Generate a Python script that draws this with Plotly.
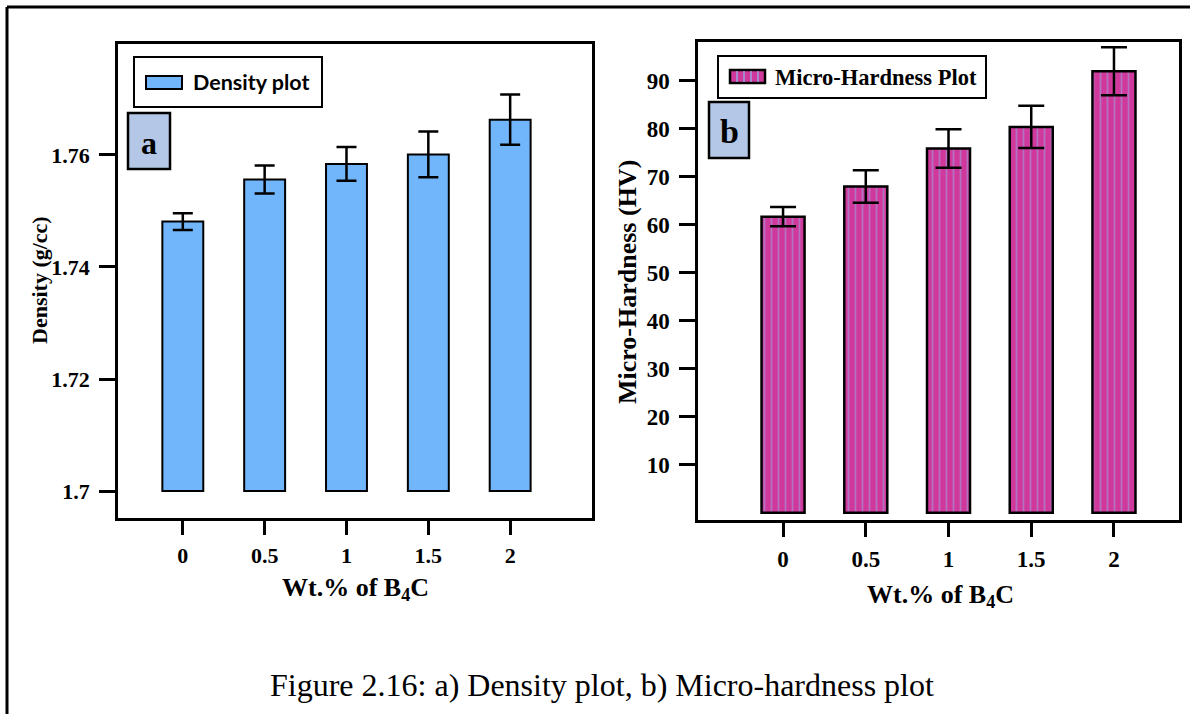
import plotly.graph_objects as go

# ---------------- data ----------------
wt_b4c = [0, 0.5, 1, 1.5, 2]
wt_labels = ["0", "0.5", "1", "1.5", "2"]

density = [1.7481, 1.7556, 1.7584, 1.7601, 1.7663]
density_err = [0.0015, 0.0025, 0.0030, 0.0041, 0.0045]
density_base = 1.70
density_ticks = [1.70, 1.72, 1.74, 1.76]
density_ticktext = ["1.7", "1.72", "1.74", "1.76"]

hardness = [61.7, 68.0, 75.9, 80.4, 92.0]
hardness_err = [2.0, 3.4, 4.0, 4.4, 5.0]
hardness_ticks = [10, 20, 30, 40, 50, 60, 70, 80, 90]
hardness_ticktext = ["10", "20", "30", "40", "50", "60", "70", "80", "90"]

W, H = 1190, 714
SERIF = "Liberation Serif"


def px(x):
    return x / W


def py(y):
    return 1 - y / H


def bold(labels):
    return ["<b>%s</b>" % t for t in labels]


BLUE = "#71b5fb"
MAGENTA = "#d1389c"
STRIPE = "#8fb0e6"
LABELBOX = "#b4c7e7"

fig = go.Figure()

fig.add_trace(go.Bar(
    x=wt_b4c, y=[v - density_base for v in density], base=density_base,
    width=0.25, name="Density plot",
    marker=dict(color=BLUE, line=dict(color="black", width=2)),
    error_y=dict(type="data", array=density_err, color="black", thickness=2.5, width=10),
    xaxis="x", yaxis="y", showlegend=False,
))

fig.add_trace(go.Bar(
    x=wt_b4c, y=hardness, width=0.26, name="Micro-Hardness Plot",
    marker=dict(color=MAGENTA, line=dict(color="black", width=2.5),
                pattern=dict(shape="|", fgcolor=STRIPE, bgcolor=MAGENTA, size=7, solidity=0.25)),
    error_y=dict(type="data", array=hardness_err, color="black", thickness=2.5, width=13),
    xaxis="x2", yaxis="y2", showlegend=False,
))


def axis_common(size):
    return dict(showline=True, linewidth=2.5, linecolor="black", mirror=True,
                showgrid=False, zeroline=False, ticks="outside", tickwidth=2.5,
                tickcolor="black",
                tickfont=dict(family=SERIF, size=size, color="black"))


fig.update_layout(
    width=W, height=H, margin=dict(l=0, r=0, t=0, b=0),
    paper_bgcolor="white", plot_bgcolor="white",
    font=dict(family=SERIF, color="black"),
    xaxis=dict(domain=[px(118), px(592)], anchor="y", range=[-0.396, 2.5],
               tickmode="array", tickvals=wt_b4c, ticktext=bold(wt_labels), ticklen=14,
               ticklabelstandoff=2, **axis_common(22)),
    yaxis=dict(domain=[py(518), py(44)], anchor="x", range=[1.6952, 1.7798],
               tickmode="array", tickvals=density_ticks, ticktext=bold(density_ticktext),
               ticklen=16, ticklabelstandoff=5, **axis_common(22)),
    xaxis2=dict(domain=[px(698), px(1179)], anchor="y2", range=[-0.514, 2.393],
                tickmode="array", tickvals=wt_b4c, ticktext=bold(wt_labels), ticklen=14,
                ticklabelstandoff=3, **axis_common(23)),
    yaxis2=dict(domain=[py(520), py(42)], anchor="x2", range=[-1.5, 98.1],
                tickmode="array", tickvals=hardness_ticks, ticktext=bold(hardness_ticktext),
                ticklen=16, ticklabelstandoff=5, **axis_common(23)),
)

shapes = []
annotations = []

# outer figure frame (left + top)
shapes.append(dict(type="line", xref="paper", yref="paper", x0=px(7), y0=py(7), x1=1.0, y1=py(7),
                   line=dict(color="black", width=3)))
shapes.append(dict(type="line", xref="paper", yref="paper", x0=px(7), y0=py(7), x1=px(7), y1=0,
                   line=dict(color="black", width=3)))

# legend a
shapes.append(dict(type="rect", xref="paper", yref="paper", x0=px(134), y0=py(107), x1=px(322), y1=py(57),
                   line=dict(color="black", width=2), fillcolor="white"))
shapes.append(dict(type="rect", xref="paper", yref="paper", x0=px(146), y0=py(89), x1=px(182), y1=py(76),
                   line=dict(color="black", width=2), fillcolor=BLUE))
annotations.append(dict(xref="paper", yref="paper", x=px(191), y=py(82), xanchor="left", yanchor="middle",
                        text="<b>Density plot</b>", showarrow=False,
                        font=dict(family="Lato", size=21.5, color="black")))

# label a
shapes.append(dict(type="rect", xref="paper", yref="paper", x0=px(128), y0=py(169), x1=px(170), y1=py(113),
                   line=dict(color="black", width=2.5), fillcolor=LABELBOX))
annotations.append(dict(xref="paper", yref="paper", x=px(149), y=py(143), xanchor="center", yanchor="middle",
                        text="<b>a</b>", showarrow=False, font=dict(family=SERIF, size=32, color="black")))

# legend b
shapes.append(dict(type="rect", xref="paper", yref="paper", x0=px(718), y0=py(98), x1=px(986), y1=py(56),
                   line=dict(color="black", width=2), fillcolor="white"))
shapes.append(dict(type="rect", xref="paper", yref="paper", x0=px(730), y0=py(83), x1=px(765), y1=py(70),
                   line=dict(color="black", width=2.5), fillcolor=MAGENTA))
for sx in [737, 744, 751, 758]:
    shapes.append(dict(type="line", xref="paper", yref="paper", x0=px(sx), y0=py(82), x1=px(sx), y1=py(71),
                       line=dict(color=STRIPE, width=1.4)))
annotations.append(dict(xref="paper", yref="paper", x=px(773), y=py(77), xanchor="left", yanchor="middle",
                        text="<b>Micro-Hardness Plot</b>", showarrow=False,
                        font=dict(family=SERIF, size=22.5, color="black")))

# label b
shapes.append(dict(type="rect", xref="paper", yref="paper", x0=px(709), y0=py(158), x1=px(749), y1=py(102),
                   line=dict(color="black", width=2.5), fillcolor=LABELBOX))
annotations.append(dict(xref="paper", yref="paper", x=px(729), y=py(131), xanchor="center", yanchor="middle",
                        text="<b>b</b>", showarrow=False, font=dict(family=SERIF, size=34, color="black")))

# axis titles
annotations.append(dict(xref="paper", yref="paper", x=px(40), y=py(280), xanchor="center", yanchor="middle",
                        text="<b>Density (g/cc)</b>", textangle=-90, showarrow=False,
                        font=dict(family=SERIF, size=22, color="black")))
annotations.append(dict(xref="paper", yref="paper", x=px(628), y=py(282), xanchor="center", yanchor="middle",
                        text="<b>Micro-Hardness (HV)</b>", textangle=-90, showarrow=False,
                        font=dict(family=SERIF, size=26, color="black")))
xtitle_font = dict(family=SERIF, size=26, color="black")
annotations.append(dict(xref="paper", yref="paper", x=px(355), y=py(589), xanchor="center", yanchor="middle",
                        text="<b>Wt.% of B<sub>4</sub>C</b>", showarrow=False, font=xtitle_font))
annotations.append(dict(xref="paper", yref="paper", x=px(940), y=py(596), xanchor="center", yanchor="middle",
                        text="<b>Wt.% of B<sub>4</sub>C</b>", showarrow=False, font=xtitle_font))

# caption
annotations.append(dict(xref="paper", yref="paper", x=px(602), y=py(685), xanchor="center", yanchor="middle",
                        text="Figure 2.16: a) Density plot, b) Micro-hardness plot", showarrow=False,
                        font=dict(family=SERIF, size=32, color="black")))

fig.update_layout(shapes=shapes, annotations=annotations)

fig.write_html(
    "out.html",
    config={"displayModeBar": False},
    post_script="document.body.style.margin='0';document.body.style.padding='0';"
                "document.body.style.overflow='hidden';document.documentElement.style.overflow='hidden';",
)
